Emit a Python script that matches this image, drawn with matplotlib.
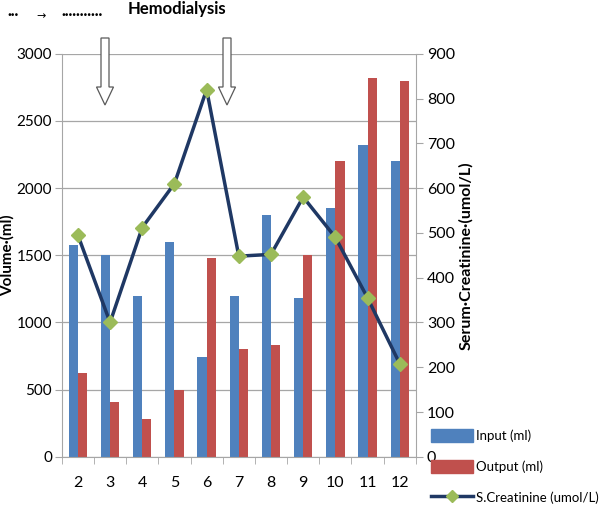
import matplotlib
matplotlib.use('Agg')
import matplotlib.pyplot as plt
from matplotlib.patches import FancyArrow
from matplotlib.lines import Line2D
import numpy as np

days = ['2', '3', '4', '5', '6', '7', '8', '9', '10', '11', '12']
input_ml = [1575, 1500, 1200, 1600, 740, 1200, 1800, 1180, 1850, 2320, 2200]
output_ml = [625, 410, 280, 500, 1480, 800, 835, 1500, 2200, 2820, 2800]
creatinine = [495, 300, 512, 610, 820, 448, 452, 580, 490, 355, 208]

plt.rcParams['font.family'] = ['Lato', 'DejaVu Sans']

fig = plt.figure(figsize=(6, 5.07), dpi=100)
ax = fig.add_axes([0.103, 0.099, 0.59, 0.795])
x = np.arange(len(days))
w = 0.285
ax.bar(x - w/2, input_ml, w, color='#4F81BD', label='Input (ml)', zorder=2)
ax.bar(x + w/2, output_ml, w, color='#C0504D', label='Output (ml)', zorder=2)
ax.set_xlim(-0.5, len(days) - 0.5)
ax.set_ylim(0, 3000)
ax.set_yticks(range(0, 3001, 500))
ax.yaxis.grid(True, color='#A6A6A6', linewidth=0.9, zorder=0)
ax.set_axisbelow(True)
ax.set_xticks(x)
ax.set_xticklabels(days)
ax.set_xticks(np.arange(-0.5, len(days)), minor=True)
ax.tick_params(axis='x', which='major', length=0, pad=14, labelsize=11.5)
ax.tick_params(axis='x', which='minor', length=5, color='#A6A6A6')
ax.tick_params(axis='y', length=5, pad=2, color='#A6A6A6', labelsize=11)
for s in ['top', 'right']:
    ax.spines[s].set_visible(False)
ax.spines['left'].set_color('#A6A6A6')
ax.spines['bottom'].set_color('#A6A6A6')
ax.set_ylabel('Volume\u00b7(ml)', fontsize=11, fontweight='bold')
ax.yaxis.set_label_coords(-0.133, 0.5)

ax2 = ax.twinx()
ax2.plot(x, creatinine, color='#1F3864', linewidth=2.5, marker='D', markersize=7,
         markerfacecolor='#9BBB59', markeredgecolor='#9BBB59', zorder=3)
ax2.set_ylim(0, 900)
ax2.set_yticks(range(0, 901, 100))
ax2.tick_params(axis='y', length=5, pad=3, color='#A6A6A6', labelsize=11.5)
for s in ['top', 'left', 'bottom']:
    ax2.spines[s].set_visible(False)
ax2.spines['right'].set_color('#A6A6A6')
ax2.set_ylabel('Serum\u00b7Creatinine\u00b7(umol/L)', fontsize=11.5, fontweight='bold')
ax2.yaxis.set_label_coords(1.122, 0.5)

handles = [plt.Rectangle((0, 0), 1, 1, color='#4F81BD'),
           plt.Rectangle((0, 0), 1, 1, color='#C0504D'),
           Line2D([], [], color='#1F3864', linewidth=2.5, marker='D', markersize=6,
                  markerfacecolor='#9BBB59', markeredgecolor='#9BBB59')]
fig.legend(handles, ['Input (ml)', 'Output (ml)', 'S.Creatinine (umol/L)'],
           loc='lower right', bbox_to_anchor=(0.998, 0.006), frameon=False,
           borderaxespad=0, borderpad=0,
           prop={'family': ['Liberation Sans Narrow', 'Lato'], 'size': 9.5},
           handlelength=3.2, handleheight=1.15, handletextpad=0.2,
           labelspacing=1.35)

# hemodialysis arrows (figure pixels)
for xc in [105, 227]:
    top = 507 - 38
    arr = FancyArrow(xc, top, 0, -67, width=8, head_width=17, head_length=18,
                     length_includes_head=True,
                     facecolor='white', edgecolor='#595959', linewidth=0.9)
    arr.set_transform(matplotlib.transforms.Affine2D().scale(1.0 / 600, 1.0 / 507) + fig.transFigure)
    fig.patches.append(arr)

fig.text(0.013, 0.963, '\u00b7\u00b7\u00b7', fontsize=10, fontweight='bold')
fig.text(0.06, 0.963, '\u2192', fontsize=8, family='DejaVu Sans')
fig.text(0.102, 0.963, '\u00b7' * 11, fontsize=10, fontweight='bold')
fig.text(0.212, 0.972, 'Hemodialysis', fontsize=12, fontweight='bold')

fig.savefig('out.png', dpi=100)
plt.close('all')
